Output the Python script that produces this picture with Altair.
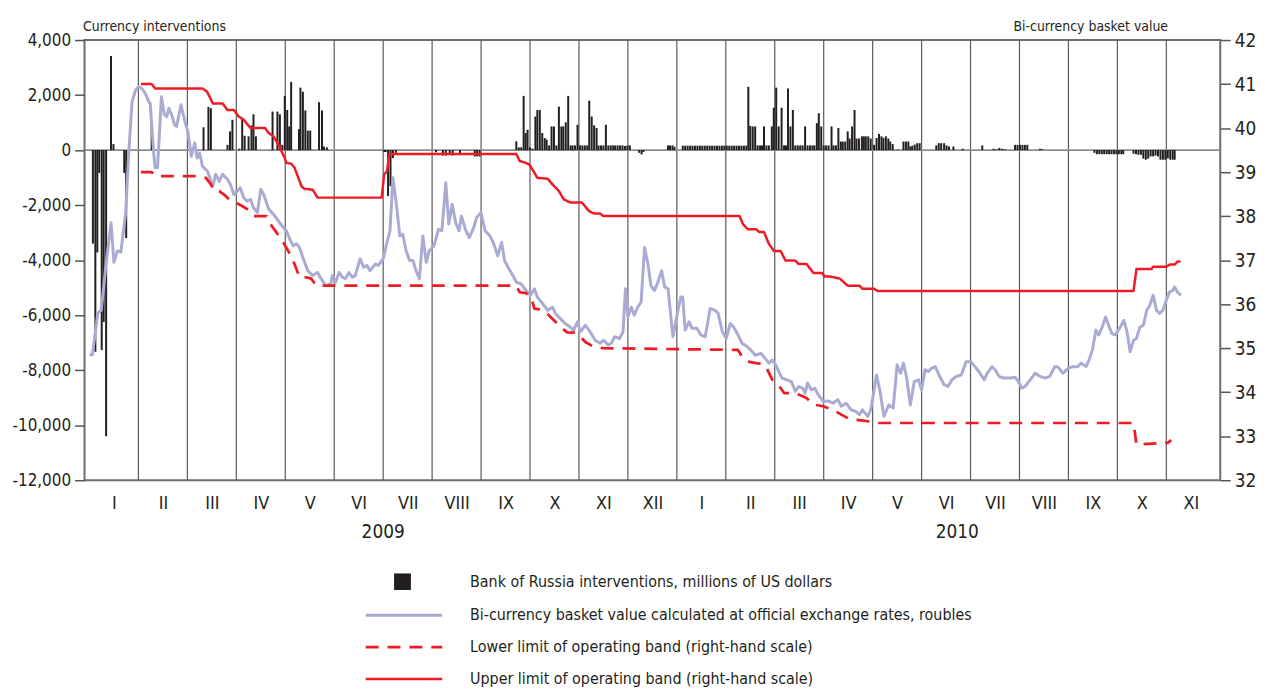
import altair as alt
import pandas as pd

FONT = "Liberation Sans Narrow, DejaVu Sans Condensed, Arial Narrow, sans-serif"
INK = "#231f20"
LAV = "#a9abd3"
RED = "#ed1c24"

# ---------------- data (x = months since 1 Jan 2009) ----------------
month_labels = ["I", "II", "III", "IV", "V", "VI", "VII", "VIII", "IX", "X", "XI", "XII",
                "I", "II", "III", "IV", "V", "VI", "VII", "VIII", "IX", "X", "XI"]
month_bounds = [1, 2, 3, 4, 5, 6, 7, 8, 9, 10, 11, 12, 13, 14, 15, 16, 17, 18, 19, 20, 21, 22]
year_labels = ["2009", "2010"]
year_pos = [6.0, 17.73]

left_ticks = [-12000, -10000, -8000, -6000, -4000, -2000, 0, 2000, 4000]
right_ticks = [32, 33, 34, 35, 36, 37, 38, 39, 40, 41, 42]

# Bi-currency basket value (roubles)
basket_points = [
    (0.00, 34.85), (0.06, 34.85), (0.17, 35.80), (0.24, 35.86), (0.34, 36.92), (0.44, 37.85),
    (0.50, 36.95), (0.57, 37.21), (0.64, 37.18), (0.74, 38.08), (0.80, 39.40), (0.87, 40.60),
    (0.94, 40.86), (1.01, 40.94), (1.07, 40.90), (1.14, 40.79), (1.21, 40.60), (1.24, 40.56),
    (1.31, 39.47), (1.34, 39.10), (1.39, 39.10), (1.47, 40.71), (1.53, 40.30), (1.58, 40.26),
    (1.62, 40.45), (1.68, 40.30), (1.74, 40.07), (1.78, 40.04), (1.87, 40.53), (1.95, 40.15),
    (2.01, 39.92), (2.08, 39.36), (2.15, 39.66), (2.20, 39.32), (2.25, 39.43), (2.31, 39.13),
    (2.41, 39.02), (2.52, 38.68), (2.58, 38.95), (2.65, 38.79), (2.72, 38.95), (2.82, 38.83),
    (2.88, 38.72), (2.95, 38.49), (3.02, 38.57), (3.08, 38.64), (3.15, 38.42), (3.22, 38.34),
    (3.29, 38.38), (3.35, 38.19), (3.43, 38.08), (3.50, 38.61), (3.56, 38.49), (3.66, 38.16),
    (3.76, 38.04), (3.86, 37.89), (3.96, 37.74), (4.02, 37.67), (4.09, 37.48), (4.16, 37.33),
    (4.23, 37.37), (4.29, 37.29), (4.36, 37.06), (4.46, 36.76), (4.56, 36.65), (4.66, 36.72),
    (4.73, 36.58), (4.83, 36.42), (4.93, 36.46), (4.96, 36.65), (5.03, 36.50), (5.10, 36.72),
    (5.17, 36.61), (5.23, 36.58), (5.30, 36.72), (5.37, 36.61), (5.43, 36.65), (5.53, 37.03),
    (5.60, 36.84), (5.67, 36.88), (5.73, 36.76), (5.84, 36.91), (5.90, 36.88), (6.00, 37.03),
    (6.07, 37.37), (6.14, 37.67), (6.20, 38.87), (6.27, 38.27), (6.34, 37.55), (6.40, 37.59),
    (6.47, 37.21), (6.54, 36.99), (6.61, 36.99), (6.67, 36.76), (6.74, 36.58), (6.81, 37.55),
    (6.88, 36.95), (6.94, 37.21), (7.04, 37.33), (7.13, 37.70), (7.20, 37.67), (7.28, 38.76),
    (7.34, 37.82), (7.41, 38.27), (7.48, 37.85), (7.55, 37.67), (7.60, 38.00), (7.68, 37.70),
    (7.76, 37.51), (7.85, 37.74), (7.91, 37.97), (8.00, 38.08), (8.08, 37.67), (8.18, 37.55),
    (8.25, 37.40), (8.34, 37.10), (8.42, 37.40), (8.48, 36.99), (8.55, 36.84), (8.65, 36.65),
    (8.72, 36.50), (8.82, 36.46), (8.92, 36.31), (9.01, 36.20), (9.09, 36.35), (9.15, 36.16),
    (9.26, 36.01), (9.36, 35.86), (9.46, 35.93), (9.52, 35.79), (9.62, 35.67), (9.72, 35.56),
    (9.82, 35.48), (9.89, 35.41), (9.97, 35.60), (10.03, 35.37), (10.13, 35.52), (10.23, 35.37),
    (10.33, 35.18), (10.43, 35.11), (10.50, 35.18), (10.60, 35.07), (10.66, 35.11), (10.73, 35.26),
    (10.83, 35.22), (10.90, 35.37), (10.95, 36.35), (11.00, 35.71), (11.07, 35.93), (11.13, 35.75),
    (11.20, 35.93), (11.27, 36.05), (11.34, 37.29), (11.41, 36.91), (11.47, 36.42), (11.54, 36.31),
    (11.60, 36.46), (11.69, 36.76), (11.75, 36.39), (11.82, 36.35), (11.92, 35.26), (12.01, 35.79),
    (12.08, 36.16), (12.12, 36.16), (12.17, 35.41), (12.25, 35.60), (12.31, 35.45), (12.41, 35.45),
    (12.49, 35.30), (12.58, 35.26), (12.68, 35.90), (12.78, 35.86), (12.84, 35.80), (12.93, 35.37),
    (13.01, 35.22), (13.09, 35.56), (13.16, 35.48), (13.25, 35.30), (13.33, 35.11), (13.42, 35.05),
    (13.51, 34.96), (13.60, 34.84), (13.72, 34.88), (13.80, 34.77), (13.88, 34.66), (13.95, 34.73),
    (14.02, 34.62), (14.08, 34.47), (14.15, 34.32), (14.25, 34.28), (14.34, 34.24), (14.42, 34.02),
    (14.49, 34.13), (14.57, 34.09), (14.62, 33.98), (14.67, 34.21), (14.75, 34.05), (14.82, 34.09),
    (14.89, 33.94), (14.99, 33.79), (15.09, 33.80), (15.19, 33.75), (15.29, 33.83), (15.36, 33.68),
    (15.46, 33.75), (15.56, 33.60), (15.66, 33.56), (15.73, 33.49), (15.79, 33.60), (15.90, 33.45),
    (15.96, 33.60), (16.03, 34.05), (16.08, 34.39), (16.15, 34.02), (16.23, 33.45), (16.33, 33.71),
    (16.42, 33.64), (16.50, 34.62), (16.57, 34.43), (16.63, 34.66), (16.69, 34.36), (16.77, 33.71),
    (16.85, 34.24), (16.94, 34.28), (17.00, 34.05), (17.07, 34.51), (17.14, 34.47), (17.20, 34.54),
    (17.28, 34.58), (17.37, 34.36), (17.46, 34.17), (17.54, 34.13), (17.62, 34.28), (17.71, 34.36),
    (17.81, 34.39), (17.91, 34.69), (18.01, 34.69), (18.09, 34.58), (18.17, 34.47), (18.28, 34.28),
    (18.34, 34.43), (18.44, 34.58), (18.51, 34.50), (18.58, 34.36), (18.68, 34.32), (18.81, 34.32),
    (18.91, 34.34), (18.98, 34.24), (19.05, 34.09), (19.11, 34.13), (19.22, 34.28), (19.32, 34.43),
    (19.42, 34.36), (19.52, 34.32), (19.62, 34.36), (19.72, 34.58), (19.78, 34.58), (19.89, 34.43),
    (19.99, 34.54), (20.09, 34.58), (20.19, 34.58), (20.26, 34.66), (20.36, 34.58), (20.42, 34.73),
    (20.49, 34.96), (20.56, 35.41), (20.62, 35.30), (20.69, 35.48), (20.76, 35.71), (20.82, 35.52),
    (20.89, 35.33), (20.96, 35.30), (21.06, 35.48), (21.13, 35.63), (21.19, 35.41), (21.26, 34.92),
    (21.33, 35.18), (21.39, 35.22), (21.46, 35.48), (21.53, 35.52), (21.60, 35.86), (21.66, 35.97),
    (21.73, 36.20), (21.80, 35.86), (21.86, 35.79), (21.93, 35.86), (22.00, 36.09), (22.06, 36.27),
    (22.13, 36.31), (22.17, 36.39), (22.23, 36.27), (22.30, 36.20),
]

# Upper limit of operating band
upper_points = [
    (1.05, 41.00), (1.27, 41.00), (1.34, 40.90), (2.31, 40.90), (2.40, 40.83), (2.52, 40.56),
    (2.72, 40.56), (2.82, 40.41), (2.95, 40.41), (3.05, 40.26), (3.15, 40.19), (3.29, 40.00),
    (3.59, 40.00), (3.66, 39.89), (3.76, 39.81), (3.86, 39.62), (3.99, 39.32), (4.02, 39.21),
    (4.12, 39.19), (4.19, 39.10), (4.33, 38.68), (4.39, 38.62), (4.56, 38.60), (4.66, 38.42),
    (5.97, 38.42), (6.02, 38.95), (6.08, 39.02), (6.12, 39.40), (6.17, 39.41), (8.72, 39.41),
    (8.79, 39.25), (8.89, 39.22), (8.99, 39.17), (9.15, 38.87), (9.36, 38.85), (9.46, 38.72),
    (9.59, 38.57), (9.69, 38.38), (9.82, 38.31), (10.06, 38.31), (10.20, 38.12), (10.30, 38.06),
    (10.43, 38.06), (10.50, 38.00), (13.28, 38.00), (13.35, 37.82), (13.45, 37.70), (13.62, 37.70),
    (13.68, 37.64), (13.78, 37.64), (13.88, 37.37), (13.98, 37.21), (14.12, 37.21), (14.22, 36.99),
    (14.42, 36.99), (14.49, 36.91), (14.65, 36.91), (14.79, 36.71), (14.96, 36.71), (15.02, 36.63),
    (15.12, 36.63), (15.33, 36.58), (15.49, 36.42), (15.73, 36.42), (15.79, 36.35), (16.03, 36.35),
    (16.10, 36.30), (21.33, 36.30), (21.39, 36.80), (21.70, 36.80), (21.73, 36.85), (22.00, 36.85),
    (22.07, 36.90), (22.17, 36.90), (22.23, 36.97), (22.29, 36.97),
]

# Lower limit of operating band
lower_points = [
    (1.05, 39.00), (1.27, 39.00), (1.34, 38.91), (2.21, 38.91), (2.38, 38.87), (2.48, 38.72),
    (2.55, 38.57), (2.65, 38.57), (2.75, 38.49), (2.85, 38.38), (2.98, 38.31), (3.12, 38.23),
    (3.22, 38.16), (3.35, 38.00), (3.62, 38.00), (3.72, 37.78), (3.82, 37.63), (3.96, 37.40),
    (4.06, 37.21), (4.19, 36.91), (4.29, 36.61), (4.43, 36.61), (4.53, 36.58), (4.63, 36.42),
    (8.72, 36.42), (8.79, 36.27), (8.92, 36.25), (9.02, 36.16), (9.09, 35.90), (9.22, 35.88),
    (9.32, 35.82), (9.42, 35.71), (9.52, 35.60), (9.62, 35.48), (9.76, 35.36), (9.93, 35.35),
    (10.03, 35.26), (10.13, 35.14), (10.30, 35.03), (10.50, 35.00), (13.25, 34.96), (13.35, 34.77),
    (13.48, 34.69), (13.62, 34.66), (13.75, 34.64), (13.82, 34.58), (13.95, 34.28), (14.05, 34.21),
    (14.19, 33.98), (14.42, 33.98), (14.52, 33.93), (14.65, 33.87), (14.79, 33.72), (14.99, 33.68),
    (15.19, 33.60), (15.36, 33.49), (15.53, 33.39), (15.76, 33.36), (16.03, 33.32), (16.10, 33.30),
    (21.33, 33.30), (21.39, 32.81), (22.03, 32.85), (22.10, 32.91),
]

# Bank of Russia interventions, millions of US dollars
bar_points = [
    (0.07, -3400), (0.12, -7330), (0.16, -3720), (0.20, -830), (0.25, -7270), (0.29, -6250),
    (0.34, -10400), (0.44, 3420), (0.49, 220), (0.71, -830), (0.75, -3200),
    (1.27, 1000),
    (2.33, 830), (2.43, 1570), (2.48, 1520), (2.82, 190), (2.87, 680), (2.92, 1100),
    (3.06, 50), (3.12, 1160), (3.17, 520), (3.25, 500), (3.31, 900), (3.35, 1300), (3.40, 500),
    (3.74, 1400), (3.84, 1400), (3.89, 1300), (3.94, 190), (3.99, 1970), (4.04, 1460),
    (4.08, 860), (4.12, 2480),
    (4.28, 760), (4.31, 2270), (4.36, 2120), (4.41, 1440), (4.46, 710), (4.51, 710),
    (4.69, 1740), (4.75, 1440), (4.79, 130), (4.85, 100),
    (6.02, -70), (6.05, -70), (6.10, -1670), (6.15, -1310), (6.20, -290), (6.26, -100),
    (7.08, -80), (7.22, -200), (7.28, -200), (7.36, -150), (7.42, -200), (7.57, -120),
    (7.87, -230), (7.92, -230), (7.97, -230),
    (8.72, 316), (8.77, 100), (8.82, 100), (8.87, 1970), (8.91, 620), (8.95, 740), (9.00, 100),
    (9.05, 50), (9.11, 1220), (9.15, 1460), (9.20, 1460), (9.25, 620), (9.30, 440), (9.34, 380),
    (9.39, 170), (9.44, 860), (9.49, 860), (9.54, 170), (9.59, 1580), (9.64, 860), (9.68, 860),
    (9.73, 1010), (9.78, 1970), (9.83, 170), (9.87, 170), (9.92, 170), (9.97, 920), (10.02, 170),
    (10.07, 170), (10.12, 170), (10.17, 170), (10.21, 1800), (10.26, 1220), (10.31, 900),
    (10.36, 800), (10.40, 170), (10.45, 170), (10.50, 170), (10.55, 920), (10.60, 170),
    (10.65, 170), (10.70, 170), (10.74, 170), (10.79, 170), (10.84, 170), (10.89, 170),
    (10.94, 150), (10.99, 170), (11.04, 170),
    (11.23, -100), (11.28, -160), (11.32, -70),
    (11.82, 170), (11.86, 170), (11.91, 170), (11.95, 120),
    (12.12, 160), (12.17, 160), (12.22, 160), (12.27, 160), (12.32, 160), (12.37, 160),
    (12.42, 160), (12.47, 160), (12.52, 160), (12.57, 160), (12.62, 160), (12.67, 160),
    (12.72, 160), (12.77, 160), (12.82, 160), (12.87, 160), (12.92, 160), (12.97, 160),
    (13.02, 160), (13.07, 160), (13.12, 160), (13.17, 160), (13.22, 160), (13.27, 160),
    (13.32, 160), (13.37, 160), (13.42, 160),
    (13.46, 2300), (13.50, 880), (13.55, 860), (13.60, 860), (13.65, 170), (13.70, 170),
    (13.74, 170), (13.78, 860), (13.83, 170), (13.88, 170), (13.94, 860), (13.98, 1540),
    (14.03, 2270), (14.08, 860), (14.14, 1540), (14.19, 170), (14.23, 170), (14.27, 2240),
    (14.32, 860), (14.37, 1460), (14.42, 170), (14.47, 170), (14.52, 170), (14.57, 170),
    (14.62, 860), (14.67, 170), (14.72, 170), (14.77, 170), (14.81, 170), (14.86, 980),
    (14.90, 1340), (14.95, 860), (15.00, 170), (15.05, 170), (15.10, 170), (15.16, 860),
    (15.20, 170), (15.25, 170), (15.30, 800), (15.35, 310), (15.39, 310), (15.44, 310),
    (15.49, 680), (15.53, 420), (15.58, 860), (15.63, 1460), (15.67, 420), (15.72, 420),
    (15.78, 500), (15.82, 500), (15.86, 500), (15.91, 500), (15.96, 420), (16.03, 190),
    (16.08, 440), (16.13, 590), (16.18, 500), (16.22, 440), (16.27, 500), (16.32, 420),
    (16.36, 310), (16.41, 220), (16.51, 20), (16.63, 310), (16.68, 310), (16.73, 310),
    (16.77, 130), (16.81, 160), (16.86, 200), (16.91, 250), (16.96, 250),
    (17.30, 170), (17.35, 250), (17.40, 250), (17.46, 250), (17.51, 170), (17.56, 130),
    (17.65, 130), (17.84, 50), (18.24, 170), (18.47, 50), (18.53, 30), (18.59, 80),
    (18.65, 50), (18.71, 30), (18.91, 190), (18.96, 190), (19.01, 190), (19.06, 190),
    (19.11, 190), (19.16, 190), (19.42, 50), (19.47, 30),
    (20.53, -100), (20.58, -150), (20.63, -150), (20.68, -150), (20.73, -150), (20.78, -150),
    (20.83, -150), (20.88, -150), (20.93, -150), (20.98, -150), (21.03, -150), (21.08, -150),
    (21.12, -150),
    (21.33, -130), (21.38, -150), (21.43, -170), (21.48, -170), (21.53, -310), (21.58, -350),
    (21.63, -310), (21.68, -230), (21.73, -230), (21.78, -200), (21.83, -230), (21.88, -350),
    (21.93, -350), (21.98, -350), (22.03, -300), (22.08, -350), (22.13, -350), (22.17, -350),
]

S_BARS = "Bank of Russia interventions, millions of US dollars"
S_BASKET = "Bi-currency basket value calculated at official exchange rates, roubles"
S_LOWER = "Lower limit of operating band (right-hand scale)"
S_UPPER = "Upper limit of operating band (right-hand scale)"

# ---------------- tables ----------------
bar_df = pd.DataFrame(bar_points, columns=["m", "v"])
bar_df["s"] = S_BARS

line_frames = []
for name, pts in [(S_BASKET, basket_points), (S_LOWER, lower_points), (S_UPPER, upper_points)]:
    d = pd.DataFrame(pts, columns=["m", "v"])
    d["s"] = name
    line_frames.append(d)
line_df = pd.concat(line_frames, ignore_index=True)

grid_df = pd.DataFrame({"m": month_bounds})
zero_df = pd.DataFrame({"v": [0]})
year_df = pd.DataFrame({"m": year_pos, "t": year_labels})

W, H = 1143, 443

x_scale = alt.Scale(domain=[0, 23], nice=False, zero=False)
left_scale = alt.Scale(domain=[-12000, 4000], nice=False, zero=False)
right_scale = alt.Scale(domain=[32, 42], nice=False, zero=False)

roman_js = "[" + ",".join("'" + r + "'" for r in month_labels) + "]"
x_axis = alt.Axis(
    values=[i + 0.5 for i in range(len(month_labels))],
    labelExpr=roman_js + "[floor(datum.value)]",
    ticks=False, domain=False, grid=False, title=None,
    labelFont=FONT, labelFontSize=18, labelColor=INK, labelPadding=14,
    labelFlush=False, labelOverlap=False,
)

left_axis = alt.Axis(
    values=left_ticks, orient="left",
    labelExpr="(datum.value < 0 ? '-' : '') + format(abs(datum.value), ',')",
    tickSize=10, tickColor="#555555", tickWidth=1.5, domain=False, grid=False,
    labelFont=FONT, labelFontSize=17, labelColor=INK, labelPadding=4,
    title="Currency interventions", titleAngle=0, titleAlign="left",
    titleBaseline="alphabetic", titleX=-2, titleY=-10,
    titleFont=FONT, titleFontSize=14, titleFontWeight="normal", titleColor=INK,
)

right_axis = alt.Axis(
    values=right_ticks, orient="right",
    tickSize=10, tickColor="#555555", tickWidth=1.5, domain=False, grid=False,
    labelFont=FONT, labelFontSize=19, labelColor=INK, labelPadding=4,
    title="Bi-currency basket value", titleAngle=0, titleAlign="right",
    titleBaseline="alphabetic", titleX=-53, titleY=-10,
    titleFont=FONT, titleFontSize=14, titleFontWeight="normal", titleColor=INK,
)

bar_legend = alt.Legend(
    title=None, orient="none", legendX=311.5, legendY=536.5, padding=0,
    symbolType="square", symbolSize=289, symbolStrokeWidth=0,
    labelFont=FONT, labelFontSize=16, labelColor=INK, labelOffset=59.5,
    labelLimit=900, clipHeight=17,
)

line_legend = alt.Legend(
    title=None, orient="none", legendX=281.5, legendY=570.5, padding=0,
    symbolType="stroke", symbolSize=5929, symbolStrokeWidth=3,
    labelFont=FONT, labelFontSize=16, labelColor=INK, labelOffset=26.5,
    labelLimit=900, rowPadding=15, clipHeight=17,
)

series_domain = [S_BASKET, S_LOWER, S_UPPER]

grid = alt.Chart(grid_df).mark_rule(color="#5a5a5a", strokeWidth=1.2).encode(
    x=alt.X("m:Q", scale=x_scale, axis=x_axis)
)

zero = alt.Chart(zero_df).mark_rule(color="#8c8c8c", strokeWidth=1.6).encode(
    y=alt.Y("v:Q", scale=left_scale, axis=left_axis)
)

bars = alt.Chart(bar_df).mark_bar(size=2).encode(
    x=alt.X("m:Q", scale=x_scale, axis=x_axis),
    y=alt.Y("v:Q", scale=left_scale, axis=left_axis),
    y2=alt.datum(0),
    fill=alt.Fill("s:N", scale=alt.Scale(domain=[S_BARS], range=[INK]), legend=bar_legend),
)

years = alt.Chart(year_df).mark_text(font=FONT, fontSize=19, color=INK, baseline="middle").encode(
    x=alt.X("m:Q", scale=x_scale, axis=x_axis),
    y=alt.value(H + 52),
    text="t:N",
)

lines = alt.Chart(line_df).mark_line(strokeJoin="round").encode(
    x=alt.X("m:Q", scale=x_scale, axis=x_axis),
    y=alt.Y("v:Q", scale=right_scale, axis=right_axis),
    stroke=alt.Stroke("s:N", scale=alt.Scale(domain=series_domain, range=[LAV, RED, RED]),
                      legend=line_legend),
    strokeDash=alt.StrokeDash("s:N", scale=alt.Scale(domain=series_domain,
                                                     range=[[1, 0], [13, 9], [1, 0]]),
                              legend=line_legend),
    strokeWidth=alt.StrokeWidth("s:N", scale=alt.Scale(domain=series_domain, range=[3, 2.5, 2.5]),
                                legend=None),
)

left = alt.layer(grid, zero, bars, years)
right = alt.layer(lines)

chart = (
    alt.layer(left, right)
    .resolve_scale(y="independent")
    .properties(
        width=W, height=H,
        padding={"left": 77, "top": 30, "right": 39, "bottom": 230},
        autosize=alt.AutoSizeParams(type="none"),
    )
    .configure_view(stroke="#6d6d6d", strokeWidth=2)
)

chart.save("out.html", embed_options={"renderer": "svg", "actions": False})
